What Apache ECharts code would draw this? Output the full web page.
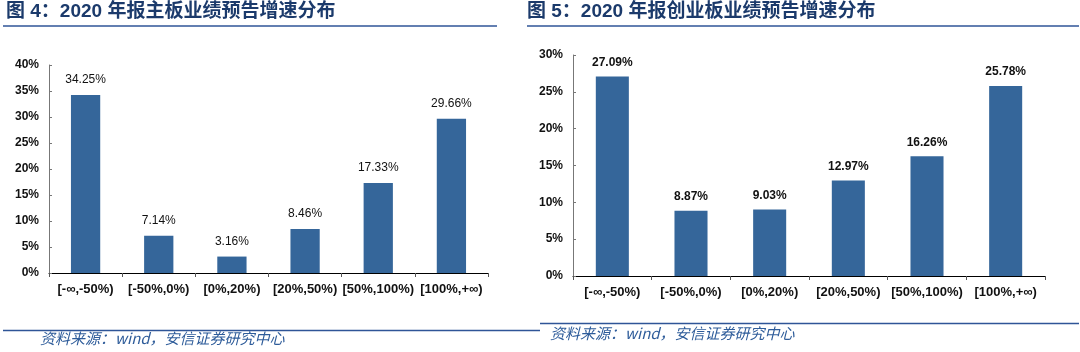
<!DOCTYPE html>
<html><head><meta charset="utf-8">
<script src="https://cdn.jsdelivr.net/npm/echarts@6/dist/echarts.min.js"></script>
<style>html,body{margin:0;padding:0;background:#fff}#c{width:1080px;height:352px}</style>
</head><body><div id="c"></div>
<script>
const categories = ['[-∞,-50%)', '[-50%,0%)', '[0%,20%)', '[20%,50%)', '[50%,100%)', '[100%,+∞)'];
const mainBoard = [34.25, 7.14, 3.16, 8.46, 17.33, 29.66];
const chiNext = [27.09, 8.87, 9.03, 12.97, 16.26, 25.78];
const title1 = '图 4：2020 年报主板业绩预告增速分布';
const title2 = '图 5：2020 年报创业板业绩预告增速分布';
const sourceText = '资料来源：wind，安信证券研究中心';

const chart = echarts.init(document.getElementById('c'), null, {renderer: 'canvas'});
const barColor = '#35669A';
const font = 'Arial, "Liberation Sans", "Noto Sans CJK SC", sans-serif';
function xAxis(gi) {
  return {
    type: 'category', gridIndex: gi, data: categories,
    axisLine: {lineStyle: {color: '#000', width: 1}},
    axisTick: {show: true, alignWithLabel: false, length: 4, lineStyle: {color: '#555'}},
    axisLabel: {color: '#111', fontWeight: 'bold', fontSize: 13, fontFamily: font, margin: 10, interval: 0}
  };
}
function yAxis(gi, max) {
  return {
    type: 'value', gridIndex: gi, min: 0, max: max, interval: 5,
    axisLine: {show: true, lineStyle: {color: '#777'}},
    axisTick: {show: true, inside: true, length: 3, lineStyle: {color: '#777'}},
    splitLine: {show: false},
    axisLabel: {formatter: '{value}%', color: '#111', fontWeight: 'bold', fontSize: 12, fontFamily: font, margin: 10}
  };
}
chart.setOption({
  animation: false,
  grid: [
    {left: 49, top: 65, width: 439, height: 208},
    {left: 573, top: 55, width: 472, height: 221}
  ],
  xAxis: [xAxis(0), xAxis(1)],
  yAxis: [yAxis(0, 40), yAxis(1, 30)],
  series: [
    {type: 'bar', xAxisIndex: 0, yAxisIndex: 0, data: mainBoard, barWidth: '40%',
     itemStyle: {color: barColor},
     label: {show: true, position: 'top', distance: 9, formatter: p => p.value.toFixed(2) + '%',
       color: '#111', fontSize: 12, fontFamily: font}},
    {type: 'bar', xAxisIndex: 1, yAxisIndex: 1, data: chiNext, barWidth: '42%',
     itemStyle: {color: barColor},
     label: {show: true, position: 'top', distance: 8, formatter: p => p.value.toFixed(2) + '%',
       color: '#111', fontSize: 12, fontWeight: 'bold', fontFamily: font}}
  ],
  graphic: [
    {type: 'text', left: 6, top: 2, style: {text: title1, fill: '#1B3A6B', font: 'bold 19px ' + font}},
    {type: 'text', left: 527, top: 2, style: {text: title2, fill: '#1B3A6B', font: 'bold 19px ' + font}},
    {type: 'line', shape: {x1: 3, y1: 26, x2: 497, y2: 26}, style: {stroke: '#2F5597', lineWidth: 1.5}},
    {type: 'line', shape: {x1: 527, y1: 26, x2: 1079, y2: 26}, style: {stroke: '#2F5597', lineWidth: 1.5}},
    {type: 'line', shape: {x1: 3, y1: 330.5, x2: 540, y2: 330.5}, style: {stroke: '#2F5597', lineWidth: 1.5}},
    {type: 'line', shape: {x1: 540, y1: 323.5, x2: 1079, y2: 323.5}, style: {stroke: '#2F5597', lineWidth: 1.5}},
    {type: 'text', left: 40, top: 331, style: {text: sourceText, fill: '#2E5C9A', font: 'italic 15px "Noto Sans CJK SC", sans-serif'}},
    {type: 'text', left: 550, top: 326, style: {text: sourceText, fill: '#2E5C9A', font: 'italic 15px "Noto Sans CJK SC", sans-serif'}}
  ]
});
</script></body></html>
